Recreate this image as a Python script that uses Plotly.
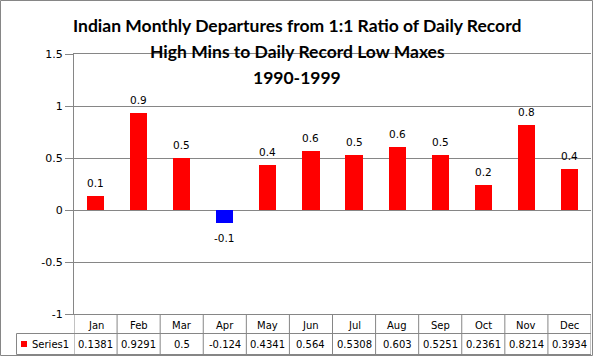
import plotly.graph_objects as go

months = ["Jan", "Feb", "Mar", "Apr", "May", "Jun", "Jul", "Aug", "Sep", "Oct", "Nov", "Dec"]
values = [0.1381, 0.9291, 0.5, -0.124, 0.4341, 0.564, 0.5308, 0.603, 0.5251, 0.2361, 0.8214, 0.3934]
series_name = "Series1"
title_lines = ["Indian Monthly Departures from 1:1 Ratio of Daily Record",
               "High Mins to Daily Record Low Maxes",
               "1990-1999"]
y_ticks = [-1, -0.5, 0, 0.5, 1, 1.5]
y_tick_text = ["-1", "-0.5", "0", "0.5", "1", "1.5"]

W, H = 593, 356
L, R, T, B = 74, 2, 54, 42
PW = W - L - R
PH = H - T - B

def py(Y):
    return (H - B - Y) / PH

def px(X):
    return (X - L) / PW

grid = "#868686"
colors = ["#0000FF" if v < 0 else "#FF0000" for v in values]
xs = list(range(len(months)))

fig = go.Figure()
fig.add_trace(go.Bar(
    x=xs, y=values, width=0.4, marker=dict(color=colors, line=dict(width=0)),
    showlegend=False, hoverinfo="x+y",
))

shapes = []
ann = []
# data labels, placed at bar ends via the data axes
for i, v in enumerate(values):
    ann.append(dict(x=i, y=v, xref="x", yref="y", text=f"{v:.1f}", showarrow=False,
                    xanchor="center", yanchor="middle",
                    yshift=13 if v >= 0 else -15,
                    font=dict(family="DejaVu Sans", size=10.5, color="#000000")))
# outer border
shapes.append(dict(type="rect", xref="paper", yref="paper",
                   x0=px(0.5), x1=px(592.5), y0=py(355.5), y1=py(0.5),
                   line=dict(color=grid, width=1)))
# table
row1_top, row1_bot, row2_bot = 314, 333.5, 354.5
for Y in (row1_bot, row2_bot):
    shapes.append(dict(type="line", xref="paper", yref="paper", x0=px(16.5), x1=1,
                       y0=py(Y), y1=py(Y), line=dict(color=grid, width=1)))
shapes.append(dict(type="line", xref="paper", yref="paper", x0=px(16.5), x1=px(16.5),
                   y0=py(row1_bot), y1=py(row2_bot), line=dict(color=grid, width=1)))
for i in range(len(months) + 1):
    xv = i - 0.5
    shapes.append(dict(type="line", xref="x", yref="paper", x0=xv, x1=xv,
                       y0=0, y1=py(row2_bot), line=dict(color=grid, width=1)))
for i, (m, v) in enumerate(zip(months, values)):
    ann.append(dict(x=i, y=py(325), xref="x", yref="paper",
                    text=m, showarrow=False, xanchor="center", yanchor="middle",
                    font=dict(family="DejaVu Sans", size=10, color="#000000")))
    ann.append(dict(x=i, y=py(344.5), xref="x", yref="paper",
                    text=str(v), showarrow=False, xanchor="center", yanchor="middle",
                    font=dict(family="DejaVu Sans", size=10, color="#000000")))
# legend key
shapes.append(dict(type="rect", xref="paper", yref="paper", x0=px(21), x1=px(27),
                   y0=py(347), y1=py(341), fillcolor="#FF0000", line=dict(width=0)))
ann.append(dict(x=px(30), y=py(344.5), xref="paper", yref="paper",
                text=series_name, showarrow=False, xanchor="left", yanchor="middle",
                font=dict(family="DejaVu Sans", size=10, color="#000000")))
# title
for Y, line in zip([25.5, 51.5, 77], title_lines):
    ann.append(dict(x=px(297), y=py(Y), xref="paper", yref="paper", text=f"<b>{line}</b>",
                    showarrow=False, xanchor="center", yanchor="middle",
                    font=dict(family="Lato", size=17.5, color="#000000")))

fig.update_layout(
    width=W, height=H, margin=dict(l=L, r=R, t=T, b=B, pad=0),
    paper_bgcolor="white", plot_bgcolor="white",
    shapes=shapes, annotations=ann, showlegend=False,
    xaxis=dict(range=[-0.5, len(months) - 0.5], showticklabels=False, showgrid=False,
               zeroline=False, ticks="", showline=True, mirror=True, linecolor=grid,
               linewidth=1, fixedrange=True),
    yaxis=dict(range=[-1, 1.5], tickvals=y_ticks, ticktext=y_tick_text,
               showgrid=True, gridcolor=grid, gridwidth=1, zeroline=True,
               zerolinecolor=grid, zerolinewidth=1, showline=True, linecolor=grid,
               linewidth=1, ticks="outside", ticklen=8, tickcolor=grid,
               tickfont=dict(family="DejaVu Sans", size=11, color="#000000")),
    bargap=0,
)
fig.write_html("out.html", config={"displayModeBar": False},
               post_script="document.body.style.margin='0';document.body.style.overflow='hidden';")
